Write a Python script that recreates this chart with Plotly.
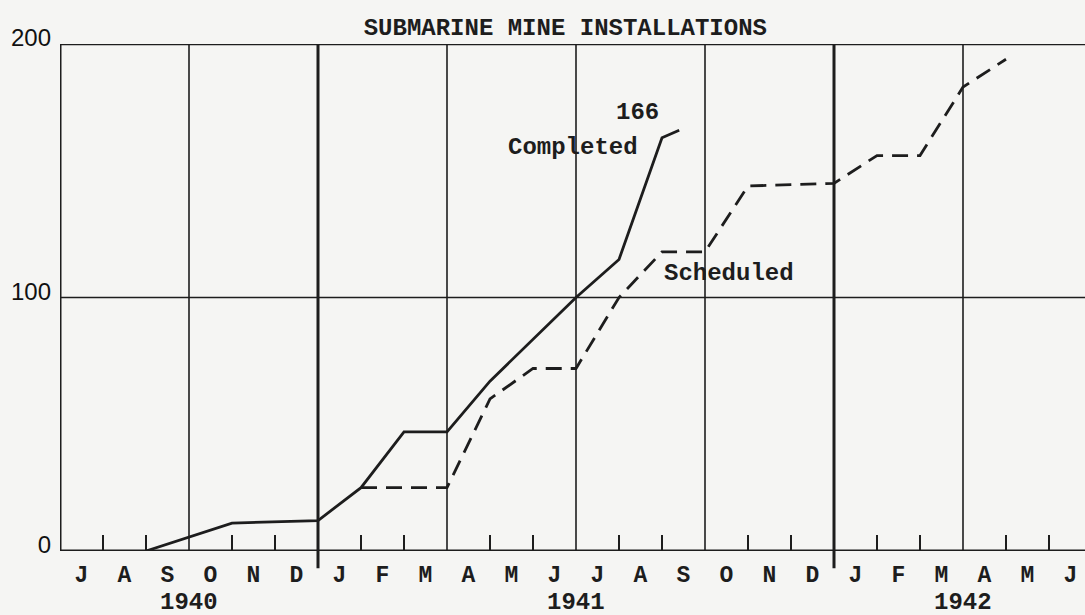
import plotly.graph_objects as go

# Month initials from July 1940 through June 1942 (one label per month)
months = ["J", "A", "S", "O", "N", "D",
          "J", "F", "M", "A", "M", "J", "J", "A", "S", "O", "N", "D",
          "J", "F", "M", "A", "M", "J"]
years = ["1940", "1941", "1942"]
year_label_pos = [3, 12, 21]          # month boundary under which each year is centred

# Cumulative installations; x = months elapsed since 1 July 1940
completed_x = [2, 4, 6, 7, 8, 9, 10, 12, 13, 14, 14.4]
completed_y = [0, 11, 12, 25, 47, 47, 67, 100, 115, 163, 166]

scheduled_x = [7, 9, 10, 11, 12, 13, 14, 15, 16, 18, 19, 20, 21, 22]
scheduled_y = [25, 25, 60, 72, 72, 100, 118, 118, 144, 145, 156, 156, 183, 194]

y_ticks = [0, 100, 200]
quarter_lines = [3, 9, 12, 15, 21]     # thin vertical rules
year_lines = [6, 18]                   # heavy rules at the turn of the year
small_ticks = [m for m in range(1, 24) if m not in quarter_lines + year_lines]

MONO = "Liberation Mono, Courier New, monospace"
SANS = "Liberation Sans, Arial, sans-serif"
INK = "#1d1d1d"
PAPER = "#f5f5f3"


def mono(size=24):
    return dict(family=MONO, size=size, color=INK, weight="bold")


fig = go.Figure()

fig.add_trace(go.Scatter(
    x=completed_x, y=completed_y, mode="lines",
    line=dict(color=INK, width=2.8), hoverinfo="skip", showlegend=False))

fig.add_trace(go.Scatter(
    x=scheduled_x, y=scheduled_y, mode="lines",
    line=dict(color=INK, width=2.8, dash="16px,9px"), hoverinfo="skip",
    showlegend=False))

shapes = []
# frame: top rule, left axis, zero line
shapes.append(dict(type="line", xref="paper", yref="y", x0=0, x1=1, y0=200, y1=200,
                   line=dict(color=INK, width=2.6), layer="below"))
shapes.append(dict(type="line", xref="paper", yref="y", x0=0, x1=1, y0=0, y1=0,
                   line=dict(color=INK, width=3), layer="below"))
shapes.append(dict(type="line", xref="x", yref="y", x0=0, x1=0, y0=0, y1=200,
                   line=dict(color=INK, width=3), layer="below"))
# horizontal rule at 100
shapes.append(dict(type="line", xref="paper", yref="y", x0=0, x1=1, y0=100, y1=100,
                   line=dict(color=INK, width=1.6), layer="below"))
for m in quarter_lines:
    shapes.append(dict(type="line", xref="x", yref="y", x0=m, x1=m, y0=0, y1=200,
                       line=dict(color=INK, width=1.6), layer="below"))
for m in year_lines:
    shapes.append(dict(type="line", xref="x", yref="paper", x0=m, x1=m, y0=-0.034, y1=1,
                       line=dict(color=INK, width=3), layer="below"))

annotations = [
    dict(text="Completed", x=11.93, y=159, xref="x", yref="y", showarrow=False,
         font=mono()),
    dict(text=str(completed_y[-1]), x=13.42, y=173, xref="x", yref="y", showarrow=False,
         font=mono()),
    dict(text="Scheduled", x=15.56, y=109.5, xref="x", yref="y", showarrow=False,
         font=mono()),
]
for yr, pos in zip(years, year_label_pos):
    annotations.append(dict(text=yr, x=pos, y=0, xref="x", yref="y", yshift=-51,
                            showarrow=False, font=mono()))

fig.update_layout(
    width=1085, height=615,
    margin=dict(l=60, r=0, t=44, b=64),
    paper_bgcolor=PAPER, plot_bgcolor=PAPER,
    title=dict(text="SUBMARINE MINE INSTALLATIONS", x=0.493, xref="paper",
               y=1 - 27 / 615, yref="container", xanchor="center", yanchor="middle",
               font=mono()),
    shapes=shapes,
    annotations=annotations,
    showlegend=False,
)

fig.update_xaxes(
    range=[0, 1025 / 43], showgrid=False, zeroline=False, showline=False,
    tickmode="array", tickvals=[i + 0.5 for i in range(len(months))], ticktext=months,
    ticks="", ticklabelstandoff=7,
    tickfont=mono(23),
    minor=dict(tickmode="array", tickvals=small_ticks, ticks="inside", ticklen=16,
               tickwidth=2, tickcolor=INK, showgrid=False),
    fixedrange=True,
)
fig.update_yaxes(
    range=[0, 200], showgrid=False, zeroline=False, showline=False,
    tickmode="array", tickvals=y_ticks, ticktext=[str(v) for v in y_ticks],
    ticks="", ticklabelstandoff=8, ticklabelshift=-6,
    tickfont=dict(family=SANS, size=24, color="#111111"),
    fixedrange=True,
)

fig.write_html("out.html")
